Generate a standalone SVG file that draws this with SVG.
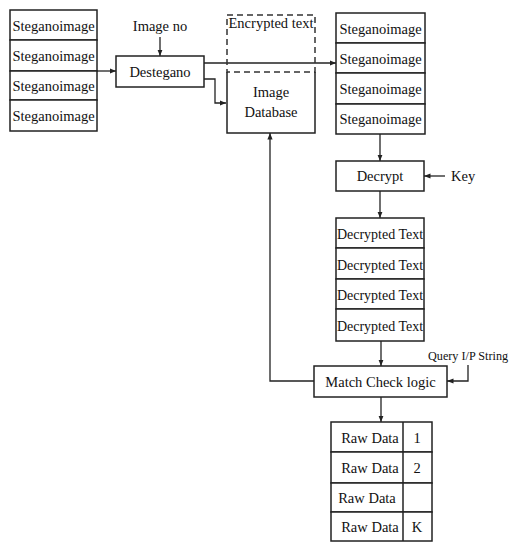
<svg xmlns="http://www.w3.org/2000/svg" width="512" height="542" viewBox="0 0 512 542">
<defs>
<style>
.box{fill:#fff;stroke:#222;stroke-width:1.5}
.dash{fill:none;stroke:#333;stroke-width:1.5;stroke-dasharray:6 4}
.ln{fill:none;stroke:#222;stroke-width:1.3}
.t{font-family:"Liberation Serif","Times New Roman",serif;font-size:14.5px;fill:#111}
.c{text-anchor:middle}
</style>
<marker id="ah" viewBox="0 0 10 10" refX="10" refY="5" markerWidth="5" markerHeight="5" orient="auto">
<path d="M0,1 L10,5 L0,9 z" fill="#222"/>
</marker>
</defs>
<rect width="512" height="542" fill="#fff"/>

<g id="connectors">
<line class="ln" x1="97" y1="71" x2="116" y2="71" marker-end="url(#ah)"/>
<line class="ln" x1="160" y1="37" x2="160" y2="56" marker-end="url(#ah)"/>
<line class="ln" x1="204" y1="63" x2="336" y2="63" marker-end="url(#ah)"/>
<polyline class="ln" points="204,79 215,79 215,103 226,103" marker-end="url(#ah)"/>
<line class="ln" x1="380" y1="134" x2="380" y2="161" marker-end="url(#ah)"/>
<line class="ln" x1="445" y1="176" x2="424" y2="176" marker-end="url(#ah)"/>
<line class="ln" x1="380" y1="191" x2="380" y2="218" marker-end="url(#ah)"/>
<line class="ln" x1="381" y1="341" x2="381" y2="366" marker-end="url(#ah)"/>
<polyline class="ln" points="468,365 468,381 447,381" marker-end="url(#ah)"/>
<polyline class="ln" points="314,381 270,381 270,133" marker-end="url(#ah)"/>
<line class="ln" x1="381" y1="397" x2="381" y2="422" marker-end="url(#ah)"/>
</g>

<g id="left-stack">
<rect class="box" x="10" y="10" width="87" height="30"/>
<rect class="box" x="10" y="40" width="87" height="31"/>
<rect class="box" x="10" y="71" width="87" height="29"/>
<rect class="box" x="10" y="100" width="87" height="31"/>
<text class="t c" x="53.5" y="31">Steganoimage</text>
<text class="t c" x="53.5" y="61">Steganoimage</text>
<text class="t c" x="53.5" y="91">Steganoimage</text>
<text class="t c" x="53.5" y="121">Steganoimage</text>
</g>

<g id="image-no">
<text class="t c" x="160" y="31">Image no</text>
</g>

<g id="destegano">
<rect class="box" x="116" y="56" width="88" height="31"/>
<text class="t c" x="160" y="77">Destegano</text>
</g>

<g id="encrypted-text">
<rect class="dash" x="227" y="15" width="88" height="57"/>
<text class="t c" x="271" y="28">Encrypted text</text>
</g>

<g id="image-database">
<path class="ln" d="M227,72 V133 H315 V72" style="stroke-width:1.5"/>
<text class="t c" x="271" y="97">Image</text>
<text class="t c" x="271" y="117">Database</text>
</g>

<g id="right-stack">
<rect class="box" x="336" y="13" width="89" height="30"/>
<rect class="box" x="336" y="43" width="89" height="30"/>
<rect class="box" x="336" y="73" width="89" height="31"/>
<rect class="box" x="336" y="104" width="89" height="30"/>
<text class="t c" x="380.5" y="34">Steganoimage</text>
<text class="t c" x="380.5" y="64">Steganoimage</text>
<text class="t c" x="380.5" y="94">Steganoimage</text>
<text class="t c" x="380.5" y="124">Steganoimage</text>
</g>

<g id="decrypt">
<rect class="box" x="336" y="161" width="88" height="30"/>
<text class="t c" x="380" y="181">Decrypt</text>
</g>

<g id="key">
<text class="t" x="451" y="181">Key</text>
</g>

<g id="decrypted-stack">
<rect class="box" x="336" y="218" width="88" height="30"/>
<rect class="box" x="336" y="248" width="88" height="31"/>
<rect class="box" x="336" y="279" width="88" height="30"/>
<rect class="box" x="336" y="309" width="88" height="32"/>
<text class="t c" x="380" y="239" style="font-size:14px">Decrypted Text</text>
<text class="t c" x="380" y="270" style="font-size:14px">Decrypted Text</text>
<text class="t c" x="380" y="300" style="font-size:14px">Decrypted Text</text>
<text class="t c" x="380" y="331" style="font-size:14px">Decrypted Text</text>
</g>

<g id="query">
<text class="t" x="428" y="360" style="font-size:12.2px">Query I/P String</text>
</g>

<g id="match-check">
<rect class="box" x="314" y="366" width="133" height="31"/>
<text class="t c" x="380.5" y="387">Match Check logic</text>
</g>

<g id="raw-data">
<rect class="box" x="331" y="422" width="101" height="30"/>
<rect class="box" x="331" y="452" width="101" height="31"/>
<rect class="box" x="331" y="483" width="101" height="29"/>
<rect class="box" x="331" y="512" width="101" height="29"/>
<line class="ln" x1="403" y1="422" x2="403" y2="541" style="stroke-width:1.5"/>
<text class="t c" x="370" y="443">Raw Data</text>
<text class="t c" x="370" y="473">Raw Data</text>
<text class="t c" x="367" y="503">Raw Data</text>
<text class="t c" x="370" y="532">Raw Data</text>
<text class="t c" x="417" y="443">1</text>
<text class="t c" x="417" y="473">2</text>
<text class="t c" x="417" y="532">K</text>
</g>
</svg>
